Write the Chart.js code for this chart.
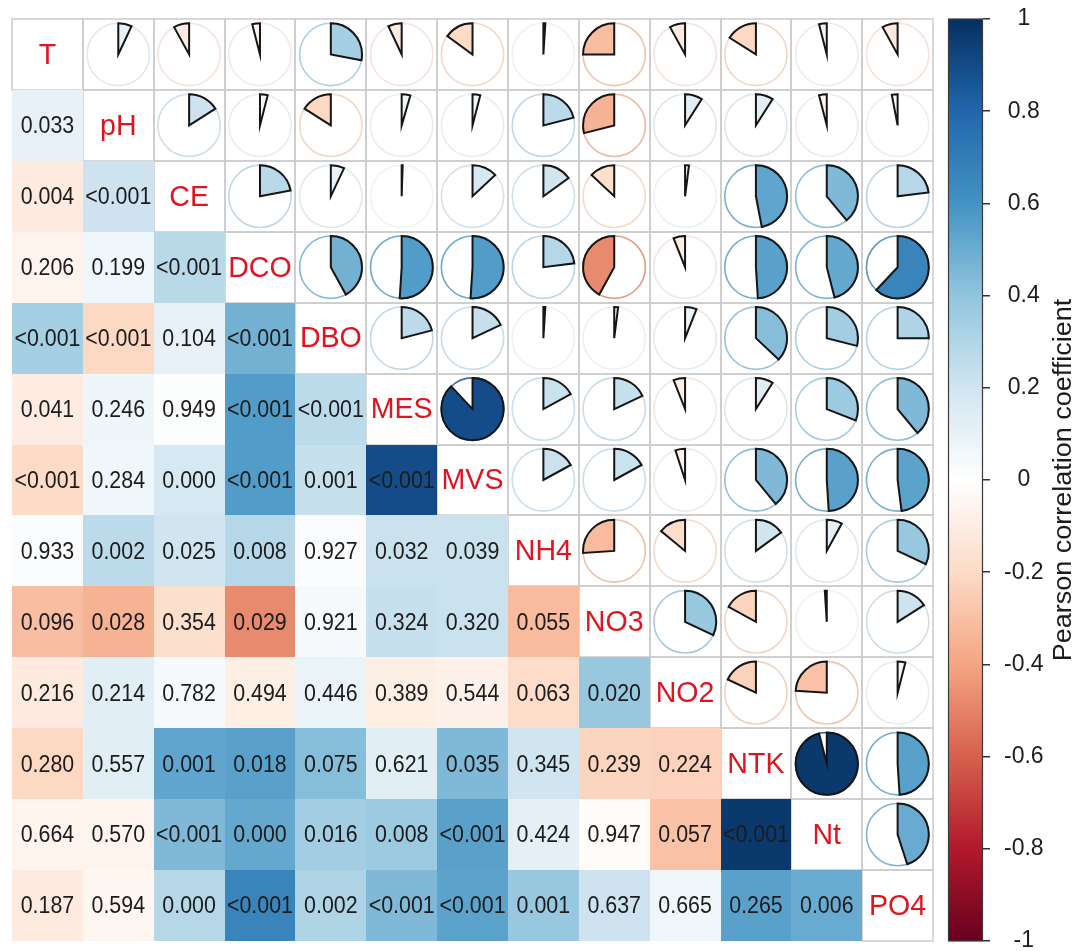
<!DOCTYPE html>
<html>
<head>
<meta charset="utf-8">
<script src="https://cdn.jsdelivr.net/npm/chart.js@4.4.1/dist/chart.umd.min.js"></script>
<style>
  html, body { margin: 0; padding: 0; background: #fff; }
  #wrap { width: 1083px; height: 951px; }
</style>
</head>
<body>
<div id="wrap"><canvas id="corr"></canvas></div>
<script>
const vars = ['T', 'pH', 'CE', 'DCO', 'DBO', 'MES', 'MVS', 'NH4', 'NO3', 'NO2', 'NTK', 'Nt', 'PO4'];

// Pearson r, upper triangle: each row against the variables to its right
const rT   = [0.07, -0.08, -0.04, 0.28, -0.07, -0.15, 0.01, -0.25, -0.08, -0.16, -0.04, -0.08];
const rPH  = [0.16, 0.04, -0.16, 0.045, 0.04, 0.21, -0.29, 0.09, 0.09, -0.04, -0.03];
const rCE  = [0.22, 0.07, 0.005, 0.13, 0.15, -0.13, 0.02, 0.47, 0.39, 0.23];
const rDCO = [0.42, 0.51, 0.51, 0.23, -0.42, -0.06, 0.49, 0.46, 0.62];
const rDBO = [0.21, 0.18, 0.01, 0.02, 0.06, 0.37, 0.29, 0.25];
const rMES = [0.88, 0.17, 0.18, -0.06, 0.09, 0.31, 0.39];
const rMVS = [0.17, 0.17, -0.05, 0.39, 0.49, 0.48];
const rNH4 = [-0.26, -0.14, 0.15, 0.08, 0.32];
const rNO3 = [0.32, -0.17, -0.01, 0.16];
const rNO2 = [-0.18, -0.24, 0.04];
const rNTK = [0.96, 0.49];
const rNt  = [0.45];
const rRows = [rT, rPH, rCE, rDCO, rDBO, rMES, rMVS, rNH4, rNO3, rNO2, rNTK, rNt, []];

// p-values, lower triangle: each row against the variables to its left
const pPH  = ['0.033'];
const pCE  = ['0.004', '<0.001'];
const pDCO = ['0.206', '0.199', '<0.001'];
const pDBO = ['<0.001', '<0.001', '0.104', '<0.001'];
const pMES = ['0.041', '0.246', '0.949', '<0.001', '<0.001'];
const pMVS = ['<0.001', '0.284', '0.000', '<0.001', '0.001', '<0.001'];
const pNH4 = ['0.933', '0.002', '0.025', '0.008', '0.927', '0.032', '0.039'];
const pNO3 = ['0.096', '0.028', '0.354', '0.029', '0.921', '0.324', '0.320', '0.055'];
const pNO2 = ['0.216', '0.214', '0.782', '0.494', '0.446', '0.389', '0.544', '0.063', '0.020'];
const pNTK = ['0.280', '0.557', '0.001', '0.018', '0.075', '0.621', '0.035', '0.345', '0.239', '0.224'];
const pNt  = ['0.664', '0.570', '<0.001', '0.000', '0.016', '0.008', '<0.001', '0.424', '0.947', '0.057', '<0.001'];
const pPO4 = ['0.187', '0.594', '0.000', '<0.001', '0.002', '<0.001', '<0.001', '0.001', '0.637', '0.665', '0.265', '0.006'];
const pRows = [[], pPH, pCE, pDCO, pDBO, pMES, pMVS, pNH4, pNO3, pNO2, pNTK, pNt, pPO4];

const cbTicks = [1, 0.8, 0.6, 0.4, 0.2, 0, -0.2, -0.4, -0.6, -0.8, -1];

// RdBu palette, -1 .. 1
const rdbu = ['#67001F', '#B2182B', '#D6604D', '#F4A582', '#FDDBC7', '#FFFFFF',
              '#D1E5F0', '#92C5DE', '#4393C3', '#2166AC', '#053061'];

function hexRgb(h) {
    return [1, 3, 5].map(k => parseInt(h.substr(k, 2), 16));
}

function corrRgb(r) {
    // the reference print runs a touch stronger than the plain ramp
    const s = Math.sign(r) * Math.pow(Math.min(1, Math.abs(r)), 0.85);
    const t = (s + 1) / 2 * (rdbu.length - 1);
    const i = Math.min(Math.floor(t), rdbu.length - 2);
    const f = t - i;
    const a = hexRgb(rdbu[i]), b = hexRgb(rdbu[i + 1]);
    return a.map((v, k) => Math.round(v + (b[k] - v) * f));
}

function corrColor(r) {
    const c = corrRgb(r);
    return `rgb(${c[0]}, ${c[1]}, ${c[2]})`;
}

// circle rim: the r colour, pulled a little towards grey
function rimColor(r) {
    const c = corrRgb(r).map(v => Math.round(v * 0.75 + 208 * 0.25));
    return `rgb(${c[0]}, ${c[1]}, ${c[2]})`;
}

function corr(i, j) {
    if (i === j) return 1;
    if (i > j) [i, j] = [j, i];
    return rRows[i][j - i - 1];
}

// points at cell centres; the scales place them
const upperPts = [], lowerPts = [], diagPts = [];
vars.forEach((_, i) => {
    vars.forEach((__, j) => {
        const pt = { x: j + 0.5, y: i + 0.5, r: corr(i, j) };
        if (j > i) upperPts.push(pt);
        else if (j < i) lowerPts.push({ ...pt, p: pRows[i][j] });
        else diagPts.push({ ...pt, label: vars[i] });
    });
});

const FONT = "'Liberation Sans', Arial, sans-serif";

const corrPlot = {
    id: 'corrPlot',
    beforeDatasetsDraw(chart) {
        const ctx = chart.ctx;
        const xs = chart.scales.x, ys = chart.scales.y, cb = chart.scales.cb;
        const cellBox = (d) => {
            const l = Math.round(xs.getPixelForValue(d.x - 0.5));
            const r = Math.round(xs.getPixelForValue(d.x + 0.5));
            const t = Math.round(ys.getPixelForValue(d.y - 0.5));
            const b = Math.round(ys.getPixelForValue(d.y + 0.5));
            return [l, t, r - l, b - t];
        };
        ctx.save();
        // grid over upper triangle + diagonal
        ctx.strokeStyle = '#cbcbcb';
        ctx.lineWidth = 1.5;
        upperPts.concat(diagPts).forEach(d => {
            const [l, t, w, h] = cellBox(d);
            ctx.strokeRect(l, t, w, h);
        });
        // lower triangle: colour tiles
        lowerPts.forEach(d => {
            const [l, t, w, h] = cellBox(d);
            ctx.fillStyle = corrColor(d.r);
            ctx.fillRect(l, t, w, h);
        });
        // colour bar
        const x0 = Math.round(xs.getPixelForValue(13.21));
        const x1 = Math.round(chart.chartArea.right);
        const yTop = cb.getPixelForValue(1), yBot = cb.getPixelForValue(-1);
        const g = ctx.createLinearGradient(0, yTop, 0, yBot);
        rdbu.slice().reverse().forEach((c, k) => g.addColorStop(k / (rdbu.length - 1), c));
        ctx.fillStyle = g;
        ctx.fillRect(x0, yTop, x1 - x0, yBot - yTop);
        ctx.strokeStyle = '#3a3a3a';
        ctx.lineWidth = 1.2;
        ctx.strokeRect(x0 + 0.5, yTop, x1 - x0 - 1, yBot - yTop);
        ctx.restore();
    },
    afterDatasetsDraw(chart) {
        const ctx = chart.ctx;
        const xs = chart.scales.x;
        const cell = xs.getPixelForValue(1) - xs.getPixelForValue(0);
        const R = cell * 0.44;
        ctx.save();
        // pies
        chart.getDatasetMeta(0).data.forEach((el, k) => {
            const r = upperPts[k].r;
            const col = corrColor(r);
            ctx.beginPath();
            ctx.arc(el.x, el.y, R, 0, Math.PI * 2);
            ctx.strokeStyle = rimColor(r);
            ctx.lineWidth = 1.6;
            ctx.stroke();
            const a0 = -Math.PI / 2;
            const a1 = a0 + (r >= 0 ? 1 : -1) * Math.abs(r) * Math.PI * 2;
            ctx.beginPath();
            ctx.moveTo(el.x, el.y);
            ctx.arc(el.x, el.y, R, a0, a1, r < 0);
            ctx.closePath();
            ctx.fillStyle = col;
            ctx.fill();
            ctx.strokeStyle = '#151515';
            ctx.lineWidth = 2;
            ctx.lineJoin = 'miter';
            ctx.stroke();
        });
        // p-values
        ctx.textAlign = 'center';
        ctx.textBaseline = 'middle';
        ctx.fillStyle = '#1c1c1c';
        ctx.font = `23px ${FONT}`;
        chart.getDatasetMeta(1).data.forEach((el, k) => {
            ctx.save();
            ctx.translate(el.x, el.y + 1);
            ctx.scale(0.93, 1.08);
            ctx.fillText(lowerPts[k].p, 0, 0);
            ctx.restore();
        });
        // variable names on the diagonal
        ctx.fillStyle = '#e0141e';
        ctx.font = `28px ${FONT}`;
        chart.getDatasetMeta(2).data.forEach((el, k) => {
            ctx.save();
            ctx.translate(el.x, el.y + 1);
            ctx.scale(1.02, 1.08);
            ctx.fillText(diagPts[k].label, 0, 0);
            ctx.restore();
        });
        ctx.restore();
    },
    afterDraw(chart) {
        const ctx = chart.ctx;
        const cb = chart.scales.cb;
        ctx.save();
        ctx.translate(1064, cb.getPixelForValue(0));
        ctx.rotate(-Math.PI / 2);
        ctx.scale(1.08, 1);
        ctx.textAlign = 'center';
        ctx.textBaseline = 'middle';
        ctx.fillStyle = '#1c1c1c';
        ctx.font = `25px ${FONT}`;
        ctx.fillText('Pearson correlation coefficient', 0, 0);
        ctx.restore();
    }
};

new Chart(document.getElementById('corr'), {
    type: 'scatter',
    data: {
        datasets: [
            { label: 'upper', data: upperPts, pointRadius: 0 },
            { label: 'lower', data: lowerPts, pointRadius: 0 },
            { label: 'diag', data: diagPts, pointRadius: 0 }
        ]
    },
    options: {
        responsive: true,
        maintainAspectRatio: false,
        animation: false,
        events: [],
        layout: { padding: { left: 12, top: 19, right: 0, bottom: 10 } },
        plugins: { legend: { display: false }, tooltip: { enabled: false } },
        scales: {
            x: { type: 'linear', min: 0, max: 13.705, display: false },
            y: { type: 'linear', min: 0, max: 13, reverse: true, display: false },
            cb: {
                type: 'linear',
                position: 'right',
                min: -1,
                max: 1,
                afterBuildTicks: (scale) => { scale.ticks = cbTicks.map(v => ({ value: v })); },
                afterFit: (scale) => {
                    scale.width = 100;
                    scale.paddingTop = 0;
                    scale.paddingBottom = 0;
                },
                grid: { drawOnChartArea: false, drawTicks: true, tickLength: 7, color: '#333', lineWidth: 1.5 },
                border: { display: false },
                ticks: {
                    color: '#1c1c1c',
                    padding: 14,
                    crossAlign: 'center',
                    font: { family: FONT, size: 23 },
                    callback: (v) => String(v)
                }
            }
        }
    },
    plugins: [corrPlot]
});
</script>
</body>
</html>
